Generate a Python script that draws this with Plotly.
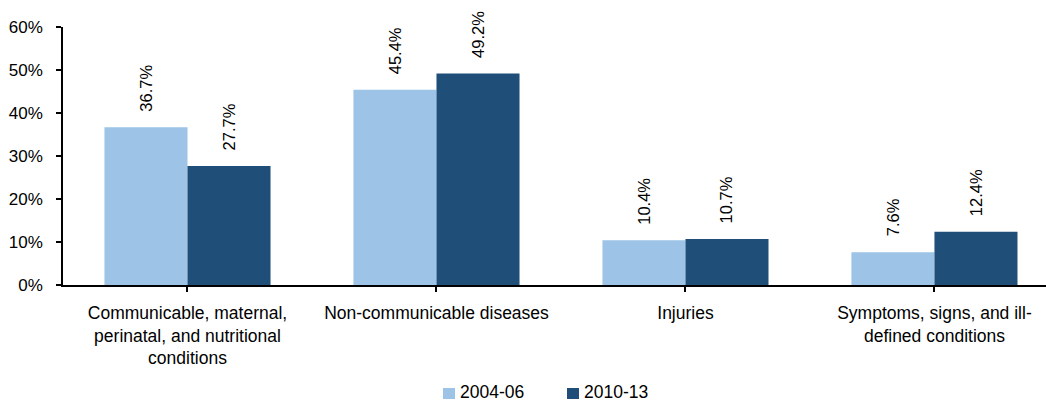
import plotly.graph_objects as go

categories = [
    "Communicable, maternal,<br>perinatal, and nutritional<br>conditions",
    "Non-communicable diseases",
    "Injuries",
    "Symptoms, signs, and ill-<br>defined conditions",
]
series_names = ["2004-06", "2010-13"]
values_2004_06 = [36.7, 45.4, 10.4, 7.6]
values_2010_13 = [27.7, 49.2, 10.7, 12.4]
y_ticks = [0, 10, 20, 30, 40, 50, 60]

colors = ["#9DC3E6", "#1F4E79"]
FONT = "Liberation Sans, Arial, sans-serif"

fig = go.Figure()
for name, vals, col in zip(series_names, [values_2004_06, values_2010_13], colors):
    fig.add_trace(go.Bar(
        x=categories, y=vals, name=name,
        marker=dict(color=col, line=dict(width=0)),
        showlegend=False,
    ))

# Rotated value labels above each bar
bar_offset = 41.5
annotations = []
for vals, shift in [(values_2004_06, -bar_offset), (values_2010_13, bar_offset)]:
    for cat, v in zip(categories, vals):
        annotations.append(dict(
            x=cat, y=v, xref="x", yref="y",
            text=f"{v:.1f}%", textangle=-90,
            showarrow=False, xanchor="center", yanchor="bottom",
            xshift=shift, yshift=14,
            font=dict(family=FONT, size=16.5, color="#000000"),
        ))

# Legend: colour swatch followed by series name (pixel layout -> paper coords)
PLOT_LEFT, PLOT_W, PLOT_BOTTOM, PLOT_H = 63, 983, 285, 258


def px_x(px):
    return (px - PLOT_LEFT) / PLOT_W


def px_y(py):
    return -(py - PLOT_BOTTOM) / PLOT_H


shapes = []
legend_items = [(443, 459), (567, 583)]
for (sq_x, txt_x), name, col in zip(legend_items, series_names, colors):
    shapes.append(dict(
        type="rect", xref="paper", yref="paper",
        x0=px_x(sq_x), x1=px_x(sq_x + 12),
        y0=px_y(399), y1=px_y(388),
        fillcolor=col, line=dict(width=0),
    ))
    annotations.append(dict(
        x=px_x(txt_x), y=px_y(402.5), xref="paper", yref="paper",
        text=name, showarrow=False, xanchor="left", yanchor="bottom",
        borderpad=0,
        font=dict(family=FONT, size=17.5, color="#000000"),
    ))

fig.update_layout(
    width=1046, height=403,
    margin=dict(l=63, r=0, t=27, b=118),
    plot_bgcolor="white", paper_bgcolor="white",
    barmode="group", bargap=0.333, bargroupgap=0,
    font=dict(family=FONT, size=17.5, color="#000000"),
    annotations=annotations,
    shapes=shapes,
    showlegend=False,
    xaxis=dict(
        range=[-0.5, 3.448],
        showline=True, linecolor="#000000", linewidth=1.5,
        ticks="outside", ticklen=5, tickcolor="#000000", tickwidth=1.5,
        tickfont=dict(family=FONT, size=17.5),
        tickangle=0, automargin=False,
        ticklabelstandoff=6,
        showgrid=False, zeroline=False,
    ),
    yaxis=dict(
        range=[0, 60], tickvals=y_ticks,
        ticktext=[f"{v}%" for v in y_ticks],
        showline=True, linecolor="#000000", linewidth=1.5,
        ticks="outside", ticklen=5, tickcolor="#000000", tickwidth=1.5,
        tickfont=dict(family=FONT, size=17), automargin=False,
        ticklabelstandoff=10,
        showgrid=False, zeroline=False,
    ),
)

fig.write_html("out.html")
